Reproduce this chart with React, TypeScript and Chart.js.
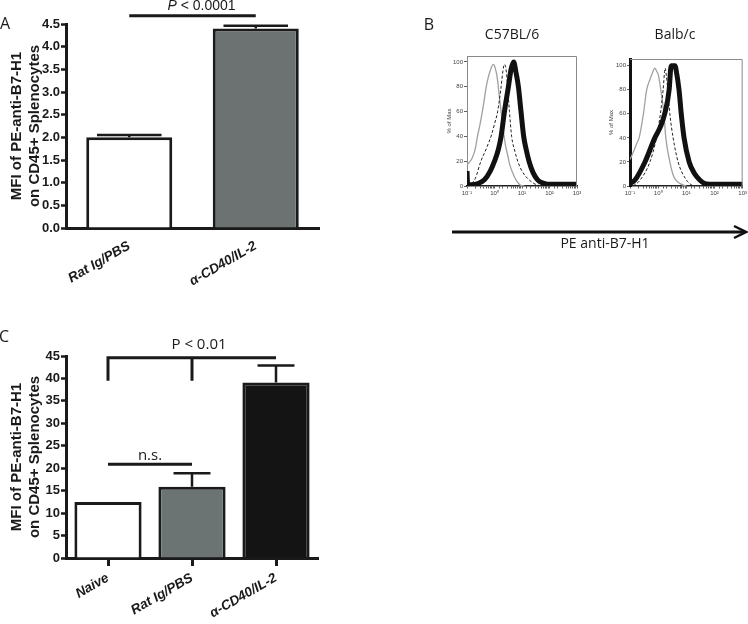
import React, { useEffect, useRef } from 'react';
import { Chart, registerables } from 'chart.js';

Chart.register(...registerables);
Chart.defaults.font.family = "'Liberation Sans', Arial, sans-serif";

const W = 748;
const H = 624;
const INK = '#1a1a1a';
const LABEL_FONT = "'Liberation Sans Narrow', 'Open Sans', sans-serif";

// ---------- Panel A ----------
const aCategories = ['Rat Ig/PBS', 'α-CD40/IL-2'];
const aMeans = [2.0, 4.4];
const aErrors = [0.05, 0.06];
const aColors = ['#ffffff', '#6c7272'];
const aPText = 'P < 0.0001';
const aBracketValue = 4.68;

// ---------- Panel C ----------
const cCategories = ['Naive', 'Rat Ig/PBS', 'α-CD40/IL-2'];
const cMeans = [12.5, 15.9, 39.1];
const cErrors = [0, 3.0, 3.8];
const cColors = ['#ffffff', '#6b7373', '#141414'];
const cPText = 'P < 0.01';
const cBracketTop = 44.6;
const cBracketFoot = 39.5;
const cNsValue = 20.9;
const cNsText = 'n.s.';

const yTitle = ['MFI of PE-anti-B7-H1', 'on CD45+ Splenocytes'];

// ---------- Panel B (flow histograms, x = fluorescence, y = % of max) ----------
const flowTickValues = [0.1, 1, 10, 100, 1000];
const flowTickLabels = ['10⁻¹', '10⁰', '10¹', '10²', '10³'];
const flowYTicks = [0, 20, 40, 60, 80, 100];
const flowYTitle = '% of Max';

const c57Isotype: [number, number][] = [
  [0.1, 17], [0.12, 19], [0.15, 22], [0.2, 30], [0.24, 40], [0.3, 50], [0.4, 66], [0.5, 80],
  [0.6, 88], [0.75, 95], [0.9, 98], [1.0, 97], [1.15, 92], [1.3, 85], [1.5, 72], [1.7, 62],
  [2.0, 48], [2.5, 33], [3.0, 25], [3.5, 18], [4.5, 11], [6, 5], [7.5, 2], [9, 0.5], [12, 0],
];
const c57Dashed: [number, number][] = [
  [0.15, 2], [0.2, 6], [0.32, 20], [0.5, 30], [0.8, 42], [1.0, 50], [1.3, 60], [1.74, 80],
  [2.0, 92], [2.3, 98], [2.6, 95], [3.0, 80], [3.5, 60], [4.2, 40], [5.5, 28], [7, 20],
  [10, 12], [18, 5], [30, 1.5], [48, 0],
];
const c57Treated: [number, number][] = [
  [0.1, 12], [0.105, 2], [0.15, 1], [0.25, 2], [0.43, 5], [0.7, 12], [1.0, 20], [1.4, 30],
  [1.74, 40], [2.3, 60], [3.2, 80], [4.0, 94], [5.0, 100], [6.0, 92], [7.4, 80], [9.2, 60],
  [11.5, 40], [14, 30], [18, 20], [25, 11], [37, 5], [55, 2.5], [85, 1.5], [1000, 1.5],
];

const balbIsotype: [number, number][] = [
  [0.1, 22], [0.13, 28], [0.17, 35], [0.21, 40], [0.3, 60], [0.39, 80], [0.5, 88], [0.65, 95],
  [0.76, 98], [0.9, 95], [1.0, 93], [1.24, 80], [1.6, 60], [1.87, 40], [2.6, 20], [3.3, 10],
  [4.2, 5], [6, 2], [10, 0],
];
const balbDashed: [number, number][] = [
  [0.13, 0], [0.23, 5], [0.51, 20], [0.87, 40], [1.0, 48], [1.2, 60], [1.5, 80], [1.77, 98],
  [1.95, 92], [2.2, 80], [2.6, 60], [3.4, 40], [5.1, 20], [10, 5], [17, 0],
];
const balbTreated: [number, number][] = [
  [0.1, 2], [0.15, 5], [0.34, 20], [0.76, 40], [1.24, 50], [1.7, 60], [2.45, 80], [2.8, 98],
  [3.0, 100], [4.0, 100], [4.3, 97], [5.5, 80], [6.6, 60], [8.3, 40], [12.6, 20], [20, 10],
  [30, 5], [45, 2], [65, 1.5], [1000, 1.5],
];

type BarSpec = {
  categories: string[];
  means: number[];
  errors: number[];
  colors: string[];
  max: number;
  step: number;
  decimals: number;
  padding: { left: number; top: number; right: number; bottom: number };
  xHeight: number;
  barPct: number;
  capFrac: number;
  xTicks: boolean;
  annotate: (chart: any) => void;
};

function barConfig(spec: BarSpec): any {
  const extras = {
    id: 'extras',
    afterDatasetsDraw(chart: any) {
      const ctx = chart.ctx;
      const y = chart.scales.y;
      const meta = chart.getDatasetMeta(0);
      ctx.save();
      ctx.strokeStyle = INK;
      ctx.lineWidth = 2.5;
      meta.data.forEach((el: any, i: number) => {
        const e = spec.errors[i];
        if (!e) return;
        const top = y.getPixelForValue(spec.means[i]);
        const cap = y.getPixelForValue(spec.means[i] + e);
        const half = (el.width * spec.capFrac) / 2;
        ctx.beginPath();
        ctx.moveTo(el.x, top);
        ctx.lineTo(el.x, cap);
        ctx.moveTo(el.x - half, cap);
        ctx.lineTo(el.x + half, cap);
        ctx.stroke();
      });
      ctx.restore();
    },
    afterDraw(chart: any) {
      spec.annotate(chart);
    },
  };
  return {
    type: 'bar',
    data: {
      labels: spec.categories,
      datasets: [
        {
          data: spec.means,
          backgroundColor: spec.colors,
          borderColor: INK,
          borderWidth: 3,
          borderSkipped: 'bottom',
          barPercentage: spec.barPct,
          categoryPercentage: 1,
        },
      ],
    },
    options: {
      animation: false,
      responsive: false,
      events: [],
      layout: { padding: spec.padding },
      plugins: { legend: { display: false }, tooltip: { enabled: false } },
      scales: {
        x: {
          grid: {
            display: spec.xTicks,
            drawTicks: spec.xTicks,
            drawOnChartArea: false,
            offset: false,
            tickLength: 8,
            tickWidth: 3,
            tickColor: INK,
            color: INK,
          },
          border: { display: true, width: 3, color: INK },
          ticks: {
            padding: spec.xTicks ? 4 : 10,
            minRotation: 30,
            maxRotation: 30,
            color: INK,
            font: { size: 13.5, weight: 'bold', style: 'italic' },
          },
          afterFit: (s: any) => {
            s.height = spec.xHeight;
          },
        },
        y: {
          min: 0,
          max: spec.max,
          ticks: {
            stepSize: spec.step,
            padding: 1,
            color: INK,
            font: { size: 13, weight: 'bold' },
            callback: (v: any) => Number(v).toFixed(spec.decimals),
          },
          grid: {
            drawOnChartArea: false,
            drawTicks: true,
            tickLength: 5,
            tickWidth: 2.5,
            tickColor: INK,
            color: INK,
          },
          border: { display: true, width: 3, color: INK },
          title: {
            display: true,
            text: yTitle,
            color: INK,
            font: { size: 15, weight: 'bold', lineHeight: 1.25 },
            padding: { top: 7, bottom: 0 },
          },
          afterFit: (s: any) => {
            s.width = 66;
          },
        },
      },
    },
    plugins: [extras],
  };
}

function annotateA(chart: any) {
  const ctx = chart.ctx;
  const y = chart.scales.y;
  const meta = chart.getDatasetMeta(0);
  const x0 = meta.data[0].x;
  const x1 = meta.data[1].x;
  const yy = y.getPixelForValue(aBracketValue);
  ctx.save();
  ctx.strokeStyle = INK;
  ctx.lineWidth = 3;
  ctx.beginPath();
  ctx.moveTo(x0, yy);
  ctx.lineTo(x1, yy);
  ctx.stroke();
  ctx.fillStyle = INK;
  ctx.textBaseline = 'alphabetic';
  const mid = (x0 + x1) / 2 + 9;
  const base = yy - 6;
  const pPart = aPText.slice(0, 1);
  const rest = aPText.slice(1);
  ctx.font = "italic 14px 'Liberation Sans', Arial, sans-serif";
  const wP = ctx.measureText(pPart).width;
  ctx.font = "14px 'Liberation Sans', Arial, sans-serif";
  const wR = ctx.measureText(rest).width;
  const start = mid - (wP + wR) / 2;
  ctx.font = "italic 14px 'Liberation Sans', Arial, sans-serif";
  ctx.fillText(pPart, start, base);
  ctx.font = "14px 'Liberation Sans', Arial, sans-serif";
  ctx.fillText(rest, start + wP, base);
  ctx.restore();
}

function annotateC(chart: any) {
  const ctx = chart.ctx;
  const y = chart.scales.y;
  const meta = chart.getDatasetMeta(0);
  const xs = meta.data.map((d: any) => d.x);
  const top = y.getPixelForValue(cBracketTop);
  const foot = y.getPixelForValue(cBracketFoot);
  const ns = y.getPixelForValue(cNsValue);
  ctx.save();
  ctx.strokeStyle = INK;
  ctx.lineWidth = 3;
  ctx.lineCap = 'butt';
  ctx.beginPath();
  ctx.moveTo(xs[0], foot);
  ctx.lineTo(xs[0], top);
  ctx.lineTo(xs[2], top);
  ctx.moveTo(xs[1], top);
  ctx.lineTo(xs[1], foot);
  ctx.moveTo(xs[0], ns);
  ctx.lineTo(xs[1], ns);
  ctx.stroke();
  ctx.fillStyle = INK;
  ctx.textAlign = 'center';
  ctx.textBaseline = 'alphabetic';
  ctx.font = "15px 'Liberation Sans Narrow', 'Open Sans', sans-serif";
  ctx.fillText(cPText, xs[1] + 7, top - 9);
  ctx.fillText(cNsText, (xs[0] + xs[1]) / 2, ns - 4);
  ctx.restore();
}

type FlowSpec = {
  curves: [number, number][][];
  padding: { left: number; top: number; right: number; bottom: number };
  yMax: number;
  yWidth: number;
  titlePad: number;
  leftBorder: { width: number; color: string };
};

function flowConfig(spec: FlowSpec): any {
  const frame = {
    id: 'frame',
    afterDraw(chart: any) {
      const { left, right, top, bottom } = chart.chartArea;
      const ctx = chart.ctx;
      ctx.save();
      ctx.strokeStyle = '#8a8a8a';
      ctx.lineWidth = 1;
      ctx.beginPath();
      ctx.moveTo(left, top + 0.5);
      ctx.lineTo(right - 0.5, top + 0.5);
      ctx.lineTo(right - 0.5, bottom);
      ctx.stroke();
      ctx.restore();
    },
  };
  const styles = [
    { borderColor: '#111111', borderWidth: 5, borderDash: [] as number[] },
    { borderColor: '#222222', borderWidth: 1, borderDash: [3, 2] },
    { borderColor: '#a0a0a0', borderWidth: 1.3, borderDash: [] as number[] },
  ];
  const order = [2, 1, 0];
  return {
    type: 'line',
    data: {
      datasets: order.map((ci, k) => ({
        data: spec.curves[ci].map(([x, y]) => ({ x, y })),
        borderColor: styles[k].borderColor,
        borderWidth: styles[k].borderWidth,
        borderDash: styles[k].borderDash,
        pointRadius: 0,
        fill: false,
        cubicInterpolationMode: 'monotone',
      })),
    },
    options: {
      animation: false,
      responsive: false,
      events: [],
      layout: { padding: spec.padding },
      plugins: { legend: { display: false }, tooltip: { enabled: false } },
      scales: {
        x: {
          type: 'logarithmic',
          min: 0.1,
          max: 1000,
          grid: {
            drawOnChartArea: false,
            drawTicks: true,
            tickLength: 2.5,
            tickWidth: 0.8,
            tickColor: '#333',
          },
          border: { display: true, width: 1.5, color: '#222' },
          ticks: {
            autoSkip: false,
            maxRotation: 0,
            minRotation: 0,
            padding: 1,
            color: '#444',
            font: { size: 6 },
            callback: (v: any) => {
              const idx = flowTickValues.findIndex((t) => Math.abs(Number(v) - t) / t < 1e-6);
              return idx >= 0 ? flowTickLabels[idx] : '';
            },
          },
          afterFit: (s: any) => {
            s.height = 20;
          },
        },
        y: {
          min: 0,
          max: spec.yMax,
          afterBuildTicks: (s: any) => {
            s.ticks = flowYTicks.map((value) => ({ value }));
          },
          ticks: { padding: 1, color: '#444', font: { size: 6 } },
          grid: {
            drawOnChartArea: false,
            drawTicks: true,
            tickLength: 3,
            tickWidth: 0.8,
            tickColor: '#333',
          },
          border: { display: true, width: spec.leftBorder.width, color: spec.leftBorder.color },
          title: {
            display: true,
            text: flowYTitle,
            color: '#444',
            font: { size: 6 },
            padding: { top: spec.titlePad, bottom: 0 },
          },
          afterFit: (s: any) => {
            s.width = spec.yWidth;
          },
        },
      },
    },
    plugins: [frame],
  };
}

const configs: any[] = [
  barConfig({
    categories: aCategories,
    means: aMeans,
    errors: aErrors,
    colors: aColors,
    max: 4.5,
    step: 0.5,
    decimals: 1,
    padding: { left: 0, top: 24, right: W - 319, bottom: H - 228 - 62 },
    xHeight: 62,
    barPct: 0.68,
    capFrac: 0.75,
    xTicks: false,
    annotate: annotateA,
  }),
  barConfig({
    categories: cCategories,
    means: cMeans,
    errors: cErrors,
    colors: cColors,
    max: 45,
    step: 5,
    decimals: 0,
    padding: { left: 0, top: 356, right: W - 318, bottom: 0 },
    xHeight: H - 558,
    barPct: 0.8,
    capFrac: 0.55,
    xTicks: true,
    annotate: annotateC,
  }),
  flowConfig({
    curves: [c57Isotype, c57Dashed, c57Treated],
    padding: { left: 440, top: 56, right: W - 577, bottom: H - 186 - 20 },
    yMax: 104.8,
    yWidth: 27,
    titlePad: 6,
    leftBorder: { width: 1, color: '#8a8a8a' },
  }),
  flowConfig({
    curves: [balbIsotype, balbDashed, balbTreated],
    padding: { left: 600, top: 59, right: W - 743, bottom: H - 186 - 20 },
    yMax: 105.6,
    yWidth: 30,
    titlePad: 8,
    leftBorder: { width: 3, color: '#111' },
  }),
];

function ChartLayer({ config }: { config: any }) {
  const ref = useRef<HTMLCanvasElement | null>(null);
  useEffect(() => {
    if (!ref.current) return;
    const chart = new Chart(ref.current, config);
    return () => chart.destroy();
  }, [config]);
  return (
    <canvas
      ref={ref}
      width={W}
      height={H}
      style={{ position: 'absolute', left: 0, top: 0, width: W, height: H, pointerEvents: 'none' }}
    />
  );
}

function Label({ x, y, text, size, weight }: { x: number; y: number; text: string; size: number; weight?: number }) {
  return (
    <div
      style={{
        position: 'absolute',
        left: x,
        top: y,
        transform: 'translate(-50%, -50%)',
        fontFamily: LABEL_FONT,
        fontSize: size,
        fontWeight: weight || 400,
        lineHeight: 1,
        color: INK,
        whiteSpace: 'nowrap',
      }}
    >
      {text}
    </div>
  );
}

export default function App() {
  return (
    <div
      style={{
        position: 'fixed',
        left: 0,
        top: 0,
        width: W,
        height: H,
        background: '#ffffff',
        overflow: 'hidden',
      }}
    >
      {configs.map((c, i) => (
        <ChartLayer key={i} config={c} />
      ))}
      <Label x={5} y={23} text="A" size={16} />
      <Label x={429} y={24} text="B" size={16} />
      <Label x={4} y={336} text="C" size={16} />
      <Label x={512} y={34} text="C57BL/6" size={14} />
      <Label x={675} y={34} text="Balb/c" size={14} />
      <Label x={605} y={243} text="PE anti-B7-H1" size={14} />
      <svg width={W} height={H} style={{ position: 'absolute', left: 0, top: 0 }}>
        <line x1={452} y1={232} x2={744} y2={232} stroke="#111" strokeWidth={3} />
        <path d="M734,226 L746,232 L734,238" fill="none" stroke="#111" strokeWidth={2.5} />
      </svg>
    </div>
  );
}
